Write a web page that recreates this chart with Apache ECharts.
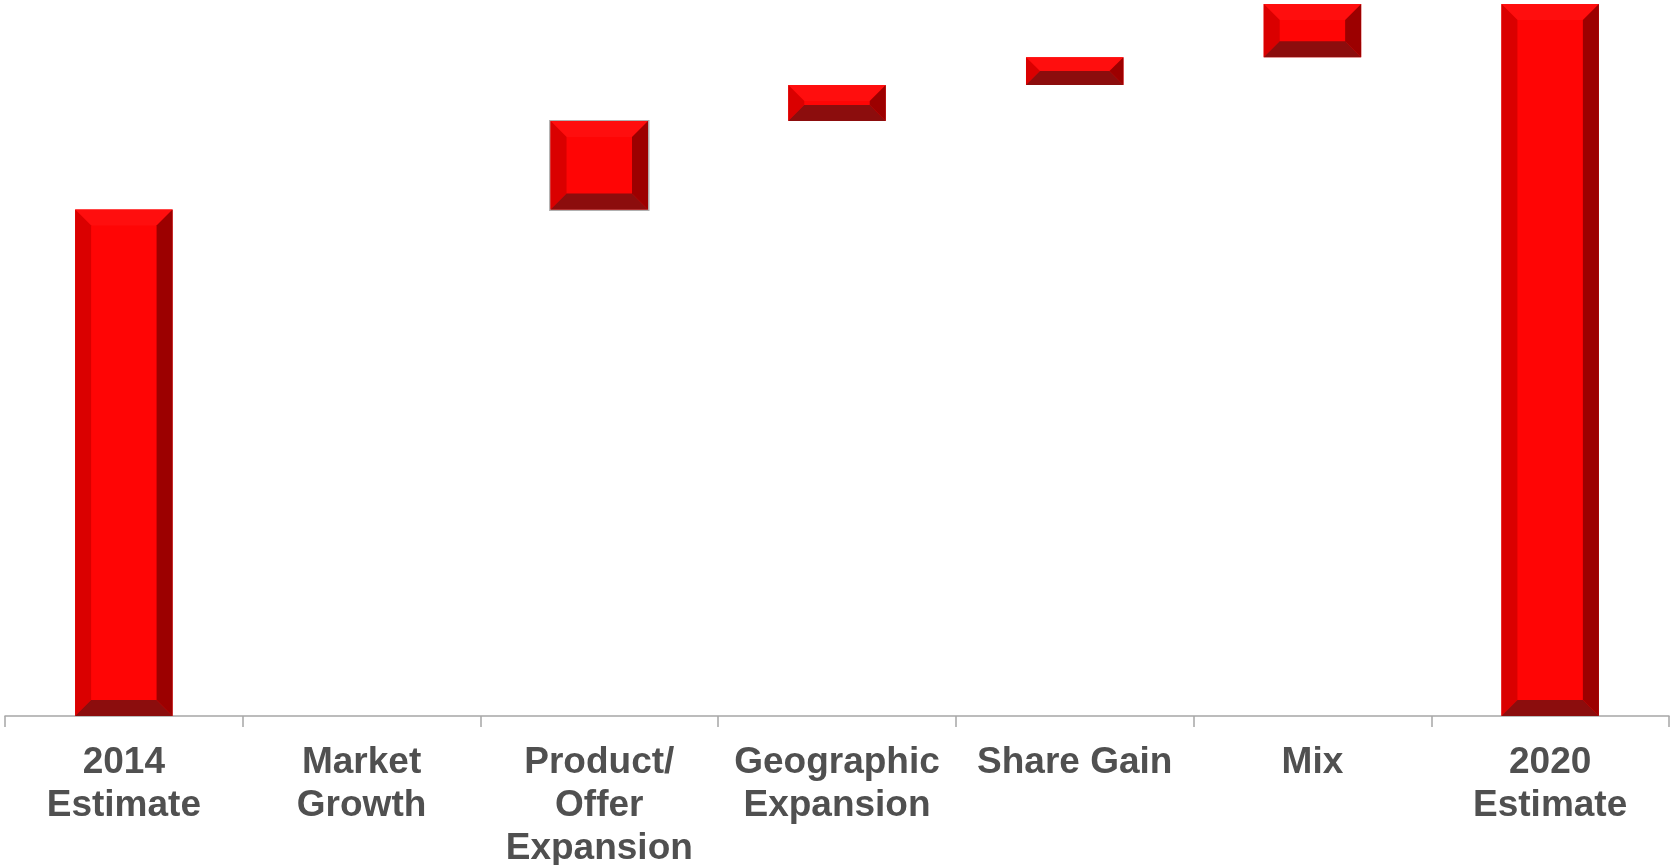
<!DOCTYPE html>
<html>
<head>
<meta charset="utf-8">
<title>Revenue bridge 2014 to 2020</title>
<script src="https://cdn.jsdelivr.net/npm/echarts@6/dist/echarts.min.js"></script>
<style>
  html, body { margin: 0; padding: 0; background: #ffffff; }
  #chart { width: 1671px; height: 865px; }
</style>
</head>
<body>
<div id="chart"></div>
<script>
// Bridge steps (indexed values, 2014 = 100)
const categories = [
  '2014\nEstimate',
  'Market\nGrowth',
  'Product/\nOffer\nExpansion',
  'Geographic\nExpansion',
  'Share Gain',
  'Mix',
  '2020\nEstimate'
];
const startTotal = 100;
const increments = [0, 17.5, 7.1, 5.5, 10.5];   // Market Growth .. Mix
const endTotal = 140.6;

// Build [categoryIndex, base, top] for each bar of the waterfall
const bars = [];
bars.push([0, 0, startTotal]);
let running = startTotal;
increments.forEach(function (inc, i) {
  bars.push([i + 1, running, running + inc]);
  running += inc;
});
bars.push([categories.length - 1, 0, endTotal]);

// Bevelled face colours
const FACE = '#ff0505';
const TOP = '#ff0e0e';
const LEFT = '#da0000';
const RIGHT = '#9c0000';
const BOTTOM = '#8c0d0d';

function renderBevelBar(params, api) {
  const idx = api.value(0);
  const base = api.value(1);
  const top = api.value(2);
  const pTop = api.coord([idx, top]);
  const pBase = api.coord([idx, base]);
  const bw = api.size([1, 0])[0] * 0.41;
  const x0 = pTop[0] - bw / 2;
  const x1 = pTop[0] + bw / 2;
  const y0 = pTop[1];
  const y1 = pBase[1];
  const h = y1 - y0;
  if (h <= 0.5) return { type: 'group', children: [] };
  const b = Math.min(16, h / 2, bw / 2);
  const children = [];
  if (params.dataIndex === 2) {
    // soft grey outline on the product bar
    children.push({
      type: 'rect',
      shape: { x: x0 - 1.5, y: y0 - 1, width: bw + 3, height: h + 2.5 },
      style: { fill: '#b0b0b0' }
    });
  }
  children.push(
    { type: 'rect', shape: { x: x0, y: y0, width: bw, height: h }, style: { fill: FACE } },
    { type: 'polygon', shape: { points: [[x0, y0], [x1, y0], [x1 - b, y0 + b], [x0 + b, y0 + b]] }, style: { fill: TOP } },
    { type: 'polygon', shape: { points: [[x0, y0], [x0 + b, y0 + b], [x0 + b, y1 - b], [x0, y1]] }, style: { fill: LEFT } },
    { type: 'polygon', shape: { points: [[x1, y0], [x1, y1], [x1 - b, y1 - b], [x1 - b, y0 + b]] }, style: { fill: RIGHT } },
    { type: 'polygon', shape: { points: [[x0, y1], [x0 + b, y1 - b], [x1 - b, y1 - b], [x1, y1]] }, style: { fill: BOTTOM } }
  );
  return { type: 'group', children: children };
}

const chart = echarts.init(document.getElementById('chart'), null, { renderer: 'canvas' });
chart.setOption({
  backgroundColor: '#ffffff',
  animation: false,
  grid: { left: 5, right: 2, top: 4, bottom: 149, containLabel: false, outerBoundsMode: 'none' },
  xAxis: {
    type: 'category',
    data: categories,
    boundaryGap: true,
    axisLine: { show: true, lineStyle: { color: '#a6a6a6', width: 1.5 } },
    axisTick: { show: true, length: 11, lineStyle: { color: '#a6a6a6', width: 1.5 } },
    axisLabel: {
      interval: 0,
      margin: 25,
      color: '#505050',
      fontFamily: 'Liberation Sans, Arial, sans-serif',
      fontWeight: 'bold',
      fontSize: 37,
      lineHeight: 43
    }
  },
  yAxis: {
    type: 'value',
    min: 0,
    max: endTotal,
    show: false,
    splitLine: { show: false }
  },
  series: [{
    type: 'custom',
    renderItem: renderBevelBar,
    encode: { x: 0, y: [1, 2] },
    data: bars
  }]
});
</script>
</body>
</html>
